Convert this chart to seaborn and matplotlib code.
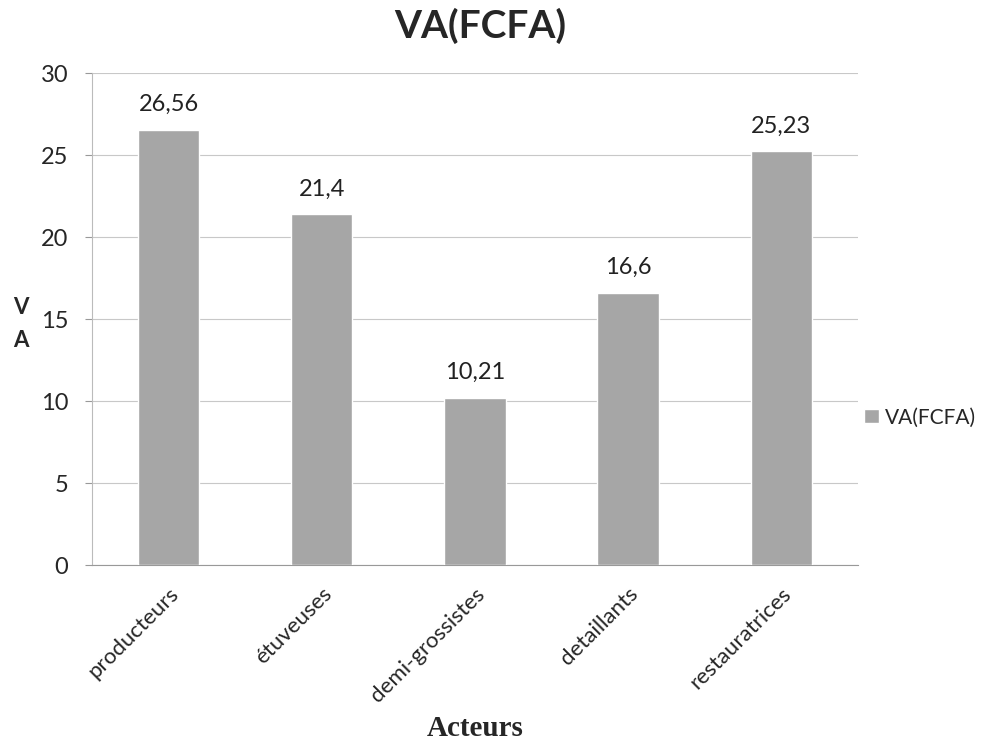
import matplotlib.pyplot as plt
import pandas as pd
import seaborn as sns

acteurs = ["producteurs", "étuveuses", "demi-grossistes", "detaillants", "restauratrices"]
va_fcfa = [26.56, 21.4, 10.21, 16.6, 25.23]
value_labels = ["26,56", "21,4", "10,21", "16,6", "25,23"]
y_ticks = [0, 5, 10, 15, 20, 25, 30]

df = pd.DataFrame({"acteur": acteurs, "va": va_fcfa})

sns.set_style("white")
plt.rcParams["font.family"] = ["Lato", "DejaVu Sans"]

fig = plt.figure(figsize=(9.86, 7.46), dpi=100)
ax = fig.add_axes([0.0933, 0.2426, 0.7767, 0.6594])

sns.barplot(data=df, x="acteur", y="va", color="#a6a6a6", saturation=1,
            width=0.4, ax=ax, zorder=3, label="VA(FCFA)")

# value labels above bars
for i, (v, lab) in enumerate(zip(va_fcfa, value_labels)):
    ax.text(i, v + 0.9, lab, ha="center", va="bottom", fontsize=17, color="#222222")

ax.set_ylim(0, 30)
ax.set_xlim(-0.5, 4.5)
ax.set_yticks(y_ticks)
ax.set_yticklabels([str(t) for t in y_ticks], fontsize=17)
ax.yaxis.grid(True, color="#c8c8c8", linewidth=0.8, zorder=0)
ax.set_xticks(range(len(acteurs)))
ax.set_xticklabels(acteurs, rotation=45, ha="right", rotation_mode="anchor", fontsize=16)
ax.tick_params(axis="y", left=True, length=5, color="#999999", pad=12)
ax.tick_params(axis="x", bottom=False, pad=10)
for side in ["top", "right"]:
    ax.spines[side].set_visible(False)
ax.spines["left"].set_color("#bbbbbb")
ax.spines["bottom"].set_color("#999999")

ax.set_xlabel("Acteurs", fontsize=21, fontweight="bold", family="Liberation Serif")
ax.xaxis.set_label_coords(0.5, -0.305)
ax.set_ylabel("V\nA", fontsize=16, fontweight="bold", rotation=0, va="center",
              linespacing=1.7)
ax.yaxis.set_label_coords(-0.093, 0.49)

fig.suptitle("VA(FCFA)", fontsize=28, fontweight="bold", x=0.487, y=0.99)

ax.legend(loc="center left", bbox_to_anchor=(1.0, 0.30), frameon=False, fontsize=15,
          handlelength=0.7, handleheight=0.7, handletextpad=0.3, borderaxespad=0.1,
          borderpad=0.2)

fig.savefig("out.png", dpi=100)
